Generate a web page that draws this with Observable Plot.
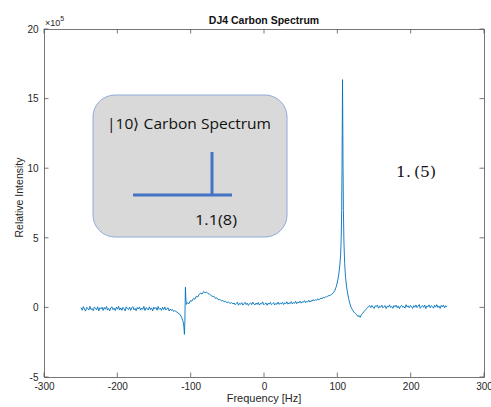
<!DOCTYPE html>
<html><head><meta charset="utf-8">
<script src="https://cdn.jsdelivr.net/npm/d3@7"></script>
<script src="https://cdn.jsdelivr.net/npm/@observablehq/plot@0.6"></script>
<style>body{margin:0;background:#fff}</style>
</head><body><div id="chart"></div>
<script>
// Frequency (Hz) and relative intensity (x10^5)
const freq = [
-250,-248.5,-247,-245.5,-244,-242.5,-241,-239.5,-238,-236.5,-235,-233.5,-232,-230.5,-229,-227.5,-226,-224.5,-223,-221.5,
-220,-218.5,-217,-215.5,-214,-212.5,-211,-209.5,-208,-206.5,-205,-203.5,-202,-200.5,-199,-197.5,-196,-194.5,-193,-191.5,
-190,-188.5,-187,-185.5,-184,-182.5,-181,-179.5,-178,-176.5,-175,-173.5,-172,-170.5,-169,-167.5,-166,-164.5,-163,-161.5,
-160,-158.5,-157,-155.5,-154,-152.5,-151,-149.5,-148,-146.5,-145,-143.5,-142,-140.5,-139,-137.5,-136,-134.5,-133,-131.5,
-130,-128.5,-127,-125.5,-124,-122.5,
-121,-118,-115,-113,-111,-110,-109.2,-108.6,-108.2,-107.8,-107.3,-106.5,-105,-103,-101,-99,-97,
-95,-93,-91,-89,-87,-85,-83,-81,-79,-77,-75,-73,-71,-69,-67,-65,-63,-61,-59,-57,
-55,-53,-51,-49,-47,-45,-43,
-41.5,-40,-38.5,-37,-35.5,-34,-32.5,-31,-29.5,-28,-26.5,-25,-23.5,-22,-20.5,-19,-17.5,-16,-14.5,-13,
-11.5,-10,-8.5,-7,-5.5,-4,-2.5,-1,0.5,2,3.5,5,6.5,8,9.5,11,12.5,14,15.5,17,
18.5,20,21.5,23,24.5,26,27.5,29,30.5,32,33.5,35,36.5,38,39.5,41,42.5,44,45.5,47,
48.5,50,51.5,53,54.5,56,57.5,59,60.5,62,63.5,65,66.5,68,69.5,71,72.5,74,75.5,77,
78.5,80,81.5,83,84.5,86,
88,90,92,94,96,98,100,101.5,102.8,103.8,
104.6,105.2,105.7,106.1,106.4,106.7,107.1,107.6,108.3,109.3,110.5,112,113.5,115,116.5,118,120,122,124,126,
127.5,129,130.5,132,134,136,138,140,142,143.5,
145,146.5,148,149.5,151,152.5,154,155.5,157,158.5,160,161.5,163,164.5,166,167.5,169,170.5,172,173.5,
175,176.5,178,179.5,181,182.5,184,185.5,187,188.5,190,191.5,193,194.5,196,197.5,199,200.5,202,203.5,
205,206.5,208,209.5,211,212.5,214,215.5,217,218.5,220,221.5,223,224.5,226,227.5,229,230.5,232,233.5,
235,236.5,238,239.5,241,242.5,244,245.5,247,248.5
];
const intensity = [
0.0,-0.17,0.09,-0.08,-0.23,0.04,-0.03,-0.15,0.11,-0.12,-0.05,-0.2,0.06,-0.01,-0.14,0.08,-0.22,0.01,-0.07,0.05,
-0.18,0.03,-0.1,0.1,-0.16,-0.04,-0.21,0.02,0.07,-0.13,-0.02,-0.19,0.05,-0.09,0.12,-0.15,0.0,-0.17,0.04,-0.06,
-0.21,0.08,-0.05,-0.12,0.06,-0.18,0.01,0.09,-0.14,-0.03,-0.2,0.03,-0.08,0.07,-0.16,-0.01,-0.11,0.11,-0.19,0.02,
-0.04,-0.15,0.08,-0.13,0.0,-0.22,0.05,-0.07,0.03,-0.17,0.1,-0.1,-0.02,-0.18,0.04,-0.12,0.07,-0.15,-0.05,0.01,
-0.22,-0.08,-0.18,-0.12,-0.26,-0.2,
-0.24,-0.36,-0.48,-0.68,-0.98,-1.3,-1.9,-1.0,0.4,1.5,0.7,0.25,0.38,0.3,0.52,0.48,0.68,
0.62,0.84,0.78,0.98,1.06,1.0,1.18,1.08,1.14,1.02,1.0,0.9,0.82,0.84,0.68,0.72,0.58,0.62,0.5,0.54,
0.44,0.47,0.37,0.42,0.32,0.38,0.28,
0.36,0.22,0.31,0.41,0.19,0.33,0.26,0.38,0.2,0.3,0.4,0.24,0.34,0.18,0.29,0.37,0.23,0.42,0.27,0.21,
0.35,0.25,0.39,0.2,0.32,0.28,0.43,0.22,0.3,0.36,0.19,0.34,0.27,0.4,0.23,0.31,0.38,0.21,0.33,0.26,
0.42,0.25,0.35,0.29,0.4,0.24,0.37,0.3,0.44,0.27,0.36,0.31,0.45,0.28,0.39,0.33,0.47,0.3,0.41,0.36,
0.49,0.34,0.44,0.4,0.52,0.37,0.47,0.43,0.55,0.42,0.53,0.48,0.6,0.5,0.58,0.55,0.66,0.57,0.64,0.7,
0.65,0.76,0.72,0.8,0.77,0.85,
0.88,0.92,1.0,1.08,1.25,1.55,2.0,2.5,3.1,3.8,
5.0,7.0,10.0,13.5,16.4,13.8,10.2,7.0,4.8,3.2,2.2,1.5,1.0,0.6,0.3,0.05,-0.15,-0.3,-0.42,-0.5,
-0.62,-0.55,-0.68,-0.5,-0.38,-0.24,-0.12,-0.02,0.1,0.16,
0.02,0.18,0.06,-0.04,0.15,0.09,0.21,-0.02,0.12,0.05,0.19,0.0,0.1,0.16,-0.05,0.13,0.07,0.22,0.03,0.11,
-0.03,0.17,0.08,0.2,0.01,0.14,-0.06,0.12,0.19,0.04,0.1,-0.02,0.23,0.06,0.15,0.0,0.18,0.09,-0.04,0.16,
0.05,0.21,0.02,0.13,0.24,-0.03,0.11,0.17,0.04,0.2,-0.05,0.14,0.08,0.22,0.01,0.16,0.1,-0.02,0.19,0.06,
0.23,0.03,0.13,-0.04,0.18,0.07,0.21,0.0,0.15,0.09
];
const xTicks = [-300, -200, -100, 0, 100, 200, 300];
const yTicks = [-5, 0, 5, 10, 15, 20];
const titleText = "DJ4 Carbon Spectrum";
const xLabel = "Frequency [Hz]";
const yLabel = "Relative Intensity";
const insetTitle = "|10\u27E9 Carbon Spectrum";
const insetValue = "1.1(8)";
const sideNote = "1.\u2009(5)";

const data = freq.map((f, i) => ({f, v: intensity[i]}));
const W = 491, H = 407, mL = 44, mR = 7, mT = 29, mB = 30;
const axisColor = "#262626";

const plot = Plot.plot({
  width: W, height: H,
  marginLeft: mL, marginRight: mR, marginTop: mT, marginBottom: mB,
  style: {fontFamily: "'Liberation Sans', Arial, sans-serif", fontSize: "10px", color: axisColor, background: "white", overflow: "visible"},
  x: {domain: [-300, 300]},
  y: {domain: [-5, 20]},
  marks: [
    Plot.axisX(xTicks, {anchor: "bottom", tickSize: 0, tickPadding: 5, label: null, fill: axisColor, tickFormat: d => String(d)}),
    Plot.axisY(yTicks, {anchor: "left", tickSize: 0, tickPadding: 6, label: null, fill: axisColor, tickFormat: d => String(d)}),
    Plot.line(data, {x: "f", y: "v", stroke: "#0072BD", strokeWidth: 0.9}),
    Plot.frame({stroke: "#555", strokeWidth: 0.8})
  ]
});
document.getElementById("chart").appendChild(plot);

const svg = d3.select(plot);
const sx = plot.scale("x").apply, sy = plot.scale("y").apply;
const x0 = sx(-300), x1 = sx(300), y0 = sy(-5), y1 = sy(20);
const tl = 4.5;
const g = svg.append("g").attr("stroke", "#555").attr("stroke-width", 0.8);
for (const t of xTicks) {
  g.append("line").attr("x1", sx(t)).attr("x2", sx(t)).attr("y1", y0).attr("y2", y0 - tl);
  g.append("line").attr("x1", sx(t)).attr("x2", sx(t)).attr("y1", y1).attr("y2", y1 + tl);
}
for (const t of yTicks) {
  g.append("line").attr("y1", sy(t)).attr("y2", sy(t)).attr("x1", x0).attr("x2", x0 + tl);
  g.append("line").attr("y1", sy(t)).attr("y2", sy(t)).attr("x1", x1).attr("x2", x1 - tl);
}
const font = "'Liberation Sans', Arial, sans-serif";
svg.append("text").attr("x", (x0 + x1) / 2).attr("y", 24).attr("text-anchor", "middle")
  .attr("font-family", font).attr("font-weight", "bold").attr("font-size", 10.5).attr("fill", "#111").text(titleText);
svg.append("text").attr("x", (x0 + x1) / 2).attr("y", 402).attr("text-anchor", "middle")
  .attr("font-family", font).attr("font-size", 11).attr("fill", axisColor).text(xLabel);
svg.append("text").attr("transform", `translate(22.5,197.5) rotate(-90)`).attr("text-anchor", "middle")
  .attr("font-family", font).attr("font-size", 10.5).attr("fill", axisColor).text(yLabel);
const ex = svg.append("text").attr("x", x0 + 1).attr("y", 26).attr("text-anchor", "start").attr("font-family", font)
  .attr("font-size", 9).attr("fill", axisColor);
ex.append("tspan").text("\u00D710");
ex.append("tspan").attr("font-size", 7).attr("dy", -5).text("5");

// Inset (pasted annotation)
const ig = svg.append("g").attr("text-anchor", "start");
ig.append("rect").attr("x", 93).attr("y", 95).attr("width", 194).attr("height", 142)
  .attr("rx", 22).attr("ry", 22).attr("fill", "#d9d9d9").attr("stroke", "#8eaadb").attr("stroke-width", 1);
ig.append("text").attr("x", 107).attr("y", 129).attr("text-anchor", "start").attr("font-family", "'Open Sans', 'Noto Sans', sans-serif")
  .attr("font-size", 15).attr("fill", "#111").attr("textLength", 164).attr("lengthAdjust", "spacingAndGlyphs").text(insetTitle);
ig.append("line").attr("x1", 133).attr("x2", 232).attr("y1", 195).attr("y2", 195).attr("stroke", "#4472C4").attr("stroke-width", 3);
ig.append("line").attr("x1", 212).attr("x2", 212).attr("y1", 152).attr("y2", 195).attr("stroke", "#4472C4").attr("stroke-width", 3);
ig.append("text").attr("x", 195).attr("y", 225).attr("text-anchor", "start").attr("font-family", "'Open Sans', 'Noto Sans', sans-serif")
  .attr("font-size", 15).attr("fill", "#111").attr("textLength", 42).attr("lengthAdjust", "spacingAndGlyphs").text(insetValue);
svg.append("text").attr("x", 396).attr("y", 177).attr("text-anchor", "start").attr("font-family", "'DejaVu Serif', 'Liberation Serif', serif")
  .attr("font-size", 15).attr("fill", "#111").attr("textLength", 40).attr("lengthAdjust", "spacingAndGlyphs").text(sideNote);
</script>
</body></html>
